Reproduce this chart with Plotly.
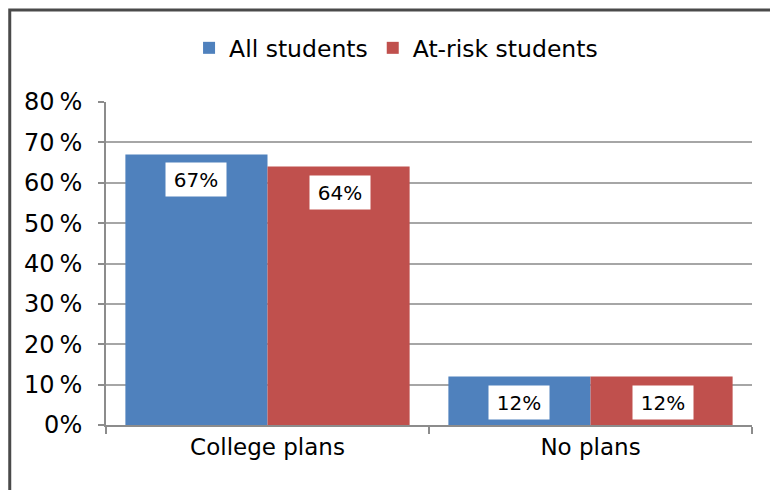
import plotly.graph_objects as go

# Share of students by post-high-school plans
categories = ["College plans", "No plans"]
all_students = [67, 12]
at_risk_students = [64, 12]
series_names = ["All students", "At-risk students"]
y_tick_values = [0, 10, 20, 30, 40, 50, 60, 70, 80]
y_tick_labels = ["0%", "10\u2009%", "20\u2009%", "30\u2009%", "40\u2009%",
                 "50\u2009%", "60\u2009%", "70\u2009%", "80\u2009%"]

BLUE = "#4F81BD"
RED = "#C0504D"
FONT = "DejaVu Sans"

fig = go.Figure()
fig.add_trace(go.Bar(x=categories, y=all_students, name=series_names[0],
                     marker=dict(color=BLUE, line=dict(width=0))))
fig.add_trace(go.Bar(x=categories, y=at_risk_students, name=series_names[1],
                     marker=dict(color=RED, line=dict(width=0))))

# White value boxes just inside the top of each bar
bar_offset = 72
for values, shift in ((all_students, -bar_offset), (at_risk_students, bar_offset)):
    for cat, v in zip(categories, values):
        fig.add_annotation(x=cat, y=v, xref="x", yref="y", xshift=shift, yshift=-8,
                           yanchor="top", text=f"{v}%", showarrow=False,
                           bgcolor="white", borderpad=6, width=48, height=21,
                           font=dict(family=FONT, size=20, color="black"))

# Outer frame of the chart
fig.add_shape(type="rect", xref="paper", yref="paper",
              x0=-0.149, x1=1.2, y0=-0.3, y1=1.285,
              line=dict(color="#4a4a4a", width=3), fillcolor="rgba(0,0,0,0)",
              layer="below")

fig.update_layout(
    width=770, height=490,
    margin=dict(l=106, r=18, t=102, b=65),
    paper_bgcolor="white", plot_bgcolor="white",
    barmode="group", bargap=0.12, bargroupgap=0,
    font=dict(family=FONT, size=23, color="black"),
    legend=dict(orientation="h", x=0.449, xanchor="center", y=1.167, yanchor="middle",
                font=dict(family=FONT, size=23.5, color="black"),
                itemsizing="constant", traceorder="normal"),
    showlegend=True,
)
fig.update_xaxes(showline=True, linecolor="#8c8c8c", linewidth=2,
                 ticks="outside", tickson="boundaries", ticklen=7,
                 tickcolor="#8c8c8c", tickwidth=2,
                 tickfont=dict(family=FONT, size=23, color="black"),
                 showgrid=False)
fig.update_yaxes(range=[0, 80], tickvals=y_tick_values, ticktext=y_tick_labels,
                 showline=True, linecolor="#8c8c8c", linewidth=2,
                 ticks="outside", ticklen=6, tickcolor="#8c8c8c", tickwidth=2,
                 showgrid=True, gridcolor="#a6a6a6", gridwidth=2,
                 zeroline=False, ticklabelstandoff=11,
                 tickfont=dict(family=FONT, size=24, color="black"))

fig.write_html("out.html")
